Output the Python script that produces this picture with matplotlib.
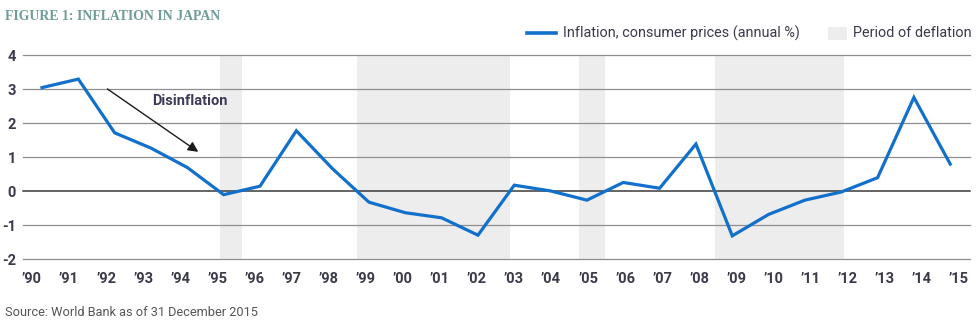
import matplotlib
matplotlib.use("Agg")

import matplotlib.pyplot as plt
from matplotlib.lines import Line2D
from matplotlib.patches import Rectangle
import numpy as np

# data
years = list(range(1990, 2016))
inflation = [3.05, 3.30, 1.72, 1.27, 0.70, -0.10, 0.15, 1.78, 0.66, -0.32,
             -0.63, -0.78, -1.29, 0.18, 0.01, -0.26, 0.26, 0.09, 1.39, -1.31,
             -0.68, -0.26, -0.02, 0.40, 2.76, 0.80]
tick_labels = ["\u2019%02d" % (y % 100) for y in years]
deflation_periods = [(1994.9, 1995.5), (1998.67, 2002.88),
                     (2004.78, 2005.5), (2008.52, 2012.08)]
y_ticks = [-2, -1, 0, 1, 2, 3, 4]

plt.rcParams['font.family'] = ['Roboto', 'DejaVu Sans']
plt.rcParams['axes.unicode_minus'] = False

blue = "#1170cb"
band = "#ededed"
txt = "#3a3a4a"

fig = plt.figure(figsize=(9.78, 3.24), dpi=100)
ax = fig.add_axes([0.02352, 0.19969, 0.96830, 0.62963])

for a, b in deflation_periods:
    ax.axvspan(a, b, color=band, lw=0, zorder=0)

for y in y_ticks:
    if y == 0:
        ax.axhline(y, color="#3a3a3a", lw=1.1, zorder=1, clip_on=False)
    else:
        ax.axhline(y, color="#8f8f8f", lw=0.9, zorder=1, clip_on=False)

ax.plot(years, inflation, color=blue, lw=2.3, zorder=3, solid_joinstyle="miter")

# disinflation arrow
ax.annotate("", xy=(1994.30, 1.16), xytext=(1991.80, 3.01),
            arrowprops=dict(arrowstyle="-|>", color="#1a1a1a", lw=1.0,
                            mutation_scale=15, shrinkA=0, shrinkB=0))
ax.text(1993.03, 2.66, "Disinflation", fontsize=10.5, fontweight="bold",
        color="#3b3b58", ha="left", va="center")

ax.set_xlim(1989.477, 2015.544)
ax.set_ylim(-2, 4)
ax.set_xticks(np.linspace(1989.725, 2015.24, 26))
ax.set_xticklabels(tick_labels)
ax.set_yticks(y_ticks)
ax.tick_params(axis="both", length=0, labelsize=10.5, labelcolor=txt)
ax.tick_params(axis="x", pad=9)
ax.tick_params(axis="y", pad=5)
for lab in ax.get_xticklabels() + ax.get_yticklabels():
    lab.set_fontweight("bold")
for s in ax.spines.values():
    s.set_visible(False)

# title
fig.text(5 / 978, 1 - 16 / 324, "FIGURE 1: INFLATION IN JAPAN",
         family="Liberation Serif", fontweight="bold", fontsize=9.9,
         color="#6f9c98", ha="left", va="center")

# legend, drawn by hand
ly = 1 - 33 / 324
fig.add_artist(Line2D([527 / 978, 556 / 978], [ly, ly], color=blue, lw=2.6,
                      transform=fig.transFigure))
fig.text(563 / 978, ly, "Inflation, consumer prices (annual %)",
         fontsize=10.4, color="#3a3a4a", ha="left", va="center")
fig.add_artist(Rectangle((828 / 978, 1 - 40 / 324), 19 / 978, 13 / 324,
                         color=band, lw=0, transform=fig.transFigure))
fig.text(853 / 978, ly, "Period of deflation",
         fontsize=10.4, color="#3a3a4a", ha="left", va="center")

# source
fig.text(5 / 978, 1 - 312 / 324, "Source: World Bank as of 31 December 2015",
         fontsize=9.2, color="#555555", ha="left", va="center")

fig.savefig("out.png", dpi=100)
